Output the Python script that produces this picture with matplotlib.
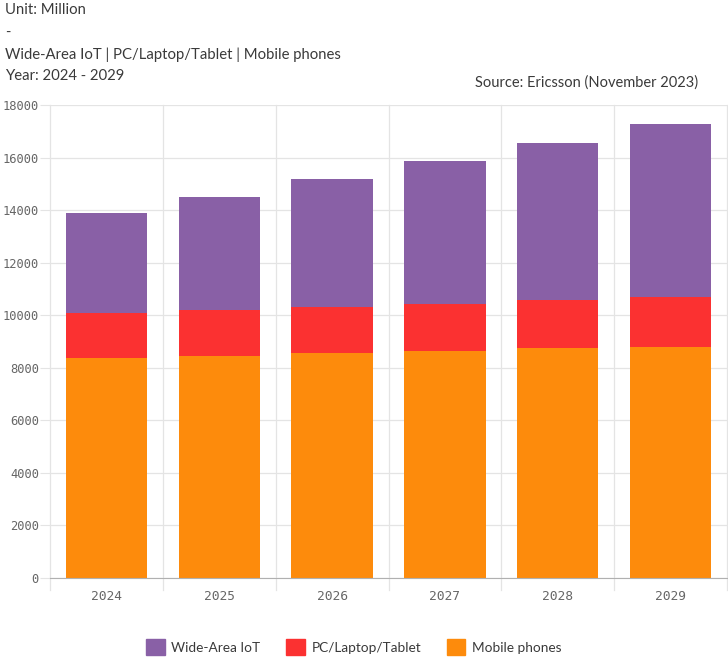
import matplotlib
matplotlib.use("Agg")
import matplotlib.pyplot as plt
from matplotlib.patches import Rectangle

years = ["2024", "2025", "2026", "2027", "2028", "2029"]
mobile_phones = [8360, 8460, 8560, 8650, 8740, 8800]
pc_laptop_tablet = [1710, 1740, 1750, 1780, 1840, 1880]
wide_area_iot = [3820, 4310, 4870, 5440, 5970, 6600]
y_ticks = [0, 2000, 4000, 6000, 8000, 10000, 12000, 14000, 16000, 18000]

c_iot = "#8960A6"
c_pc = "#FB3131"
c_mobile = "#FD8B0C"
text_col = "#3a3a3a"
tick_col = "#666666"
grid_col = "#E4E4E4"

W, H = 728, 657
fig = plt.figure(figsize=(W / 100, H / 100), dpi=100)
ax = fig.add_axes([50 / W, (H - 578) / H, 677 / W, (578 - 105) / H])

x = list(range(len(years)))
bw = 0.72
ax.bar(x, mobile_phones, width=bw, color=c_mobile, zorder=3)
bottom2 = mobile_phones
ax.bar(x, pc_laptop_tablet, width=bw, bottom=bottom2, color=c_pc, zorder=3)
bottom3 = [a + b for a, b in zip(mobile_phones, pc_laptop_tablet)]
ax.bar(x, wide_area_iot, width=bw, bottom=bottom3, color=c_iot, zorder=3)

ax.set_xlim(-0.5, len(years) - 0.5)
ax.set_ylim(0, 18000)
ax.set_yticks(y_ticks)
ax.set_yticklabels([str(v) for v in y_ticks], fontsize=8.7, family="DejaVu Sans Mono", color=tick_col)
ax.set_xticks(x)
ax.set_xticklabels(years, fontsize=9.3, family="DejaVu Sans Mono", color=tick_col)
ax.tick_params(axis="x", length=0, pad=9)
ax.tick_params(axis="y", length=7, color=grid_col, pad=1)

# horizontal grid and category band separators
ax.grid(axis="y", color=grid_col, linewidth=0.9, zorder=0)
for b in [i - 0.5 for i in range(len(years) + 1)]:
    ax.axvline(b, ymin=-0.025, ymax=1, color=grid_col, linewidth=0.9, zorder=0, clip_on=False)
for s in ["top", "right", "left"]:
    ax.spines[s].set_visible(False)
ax.spines["bottom"].set_color("#B0B0B0")
ax.spines["bottom"].set_zorder(4)

font = "Lato"
fs = 10.75
fig.text(5 / W, 1 - 10 / H, "Unit: Million", fontsize=fs, family=font, color=text_col, va="center")
fig.text(5 / W, 1 - 33 / H, "-", fontsize=fs, family=font, color=text_col, va="center")
fig.text(5 / W, 1 - 55 / H, "Wide-Area IoT | PC/Laptop/Tablet | Mobile phones", fontsize=fs,
         family=font, color=text_col, va="center")
fig.text(5 / W, 1 - 76 / H, "Year: 2024 - 2029", fontsize=fs, family=font, color=text_col, va="center")
fig.text(698 / W, 1 - 83 / H, "Source: Ericsson (November 2023)", fontsize=10.5, family=font,
         color=text_col, va="center", ha="right")

# legend
handles = [Rectangle((0, 0), 1, 1, color=c) for c in (c_iot, c_pc, c_mobile)]
fig.legend(handles, ["Wide-Area IoT", "PC/Laptop/Tablet", "Mobile phones"],
           loc="center", bbox_to_anchor=(354 / W, 1 - 647 / H), ncol=3, frameon=False,
           prop={"family": font, "size": 9.8}, labelcolor=text_col,
           handlelength=1.35, handleheight=1.35, handletextpad=0.5, columnspacing=1.9)

fig.savefig("out.png", dpi=100)
